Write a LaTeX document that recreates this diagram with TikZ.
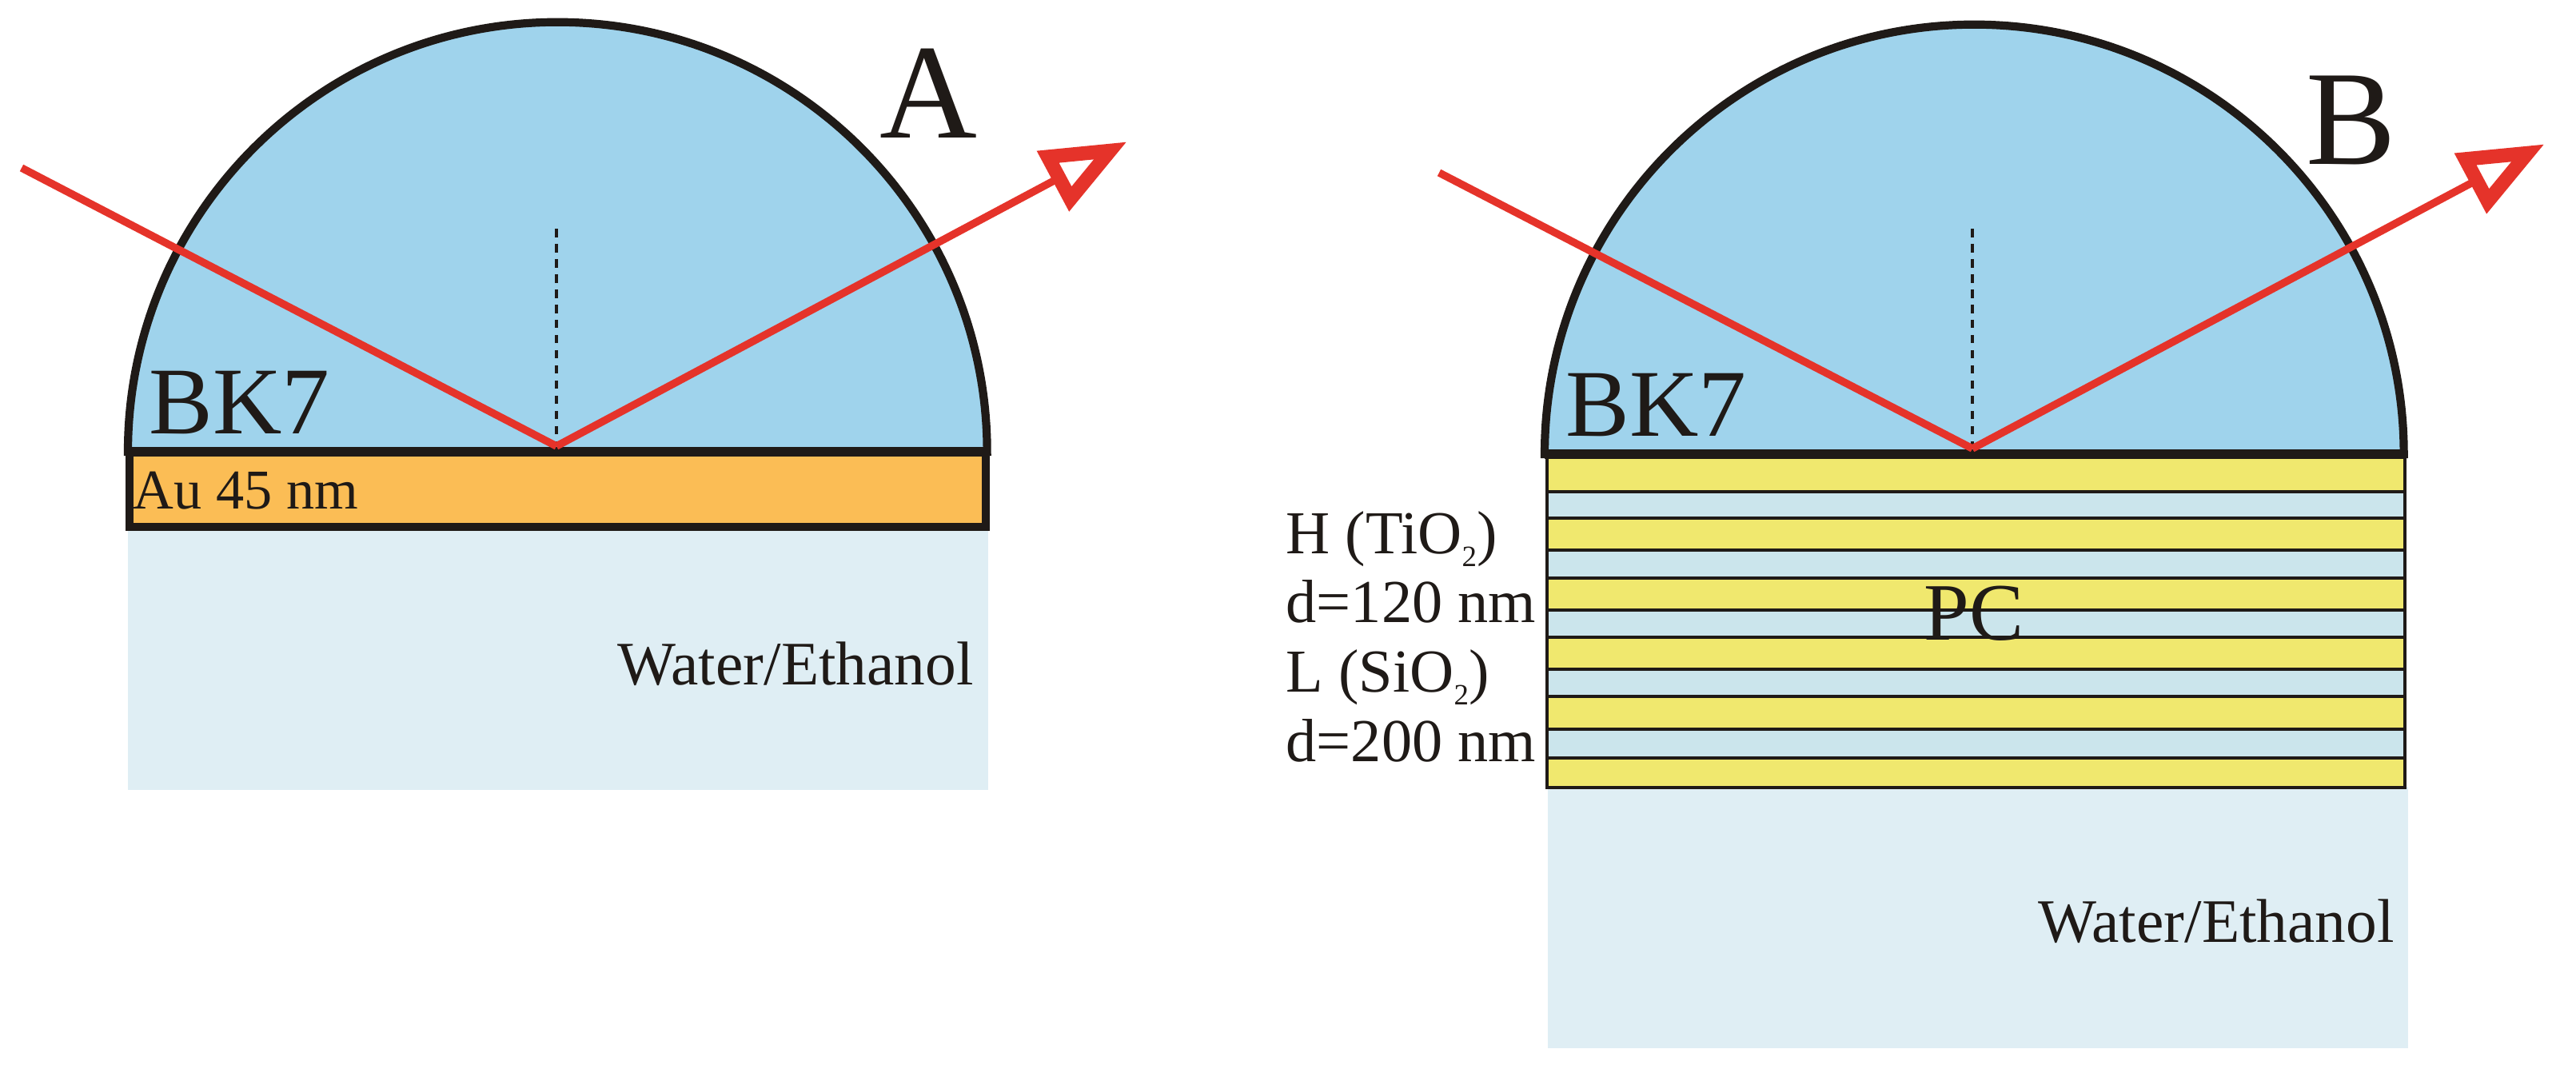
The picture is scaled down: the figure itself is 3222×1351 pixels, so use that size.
\documentclass[tikz,border=0pt]{standalone}
\usepackage{fontspec}
\setmainfont{Liberation Serif}
\usetikzlibrary{arrows.meta}
\definecolor{glass}{HTML}{9FD3EC}
\definecolor{goldfill}{HTML}{FBBD55}
\definecolor{waterfill}{HTML}{DFEEF4}
\definecolor{highfill}{HTML}{F0E86E}
\definecolor{lowfill}{HTML}{CBE5EC}
\definecolor{ink}{HTML}{1F1A17}
\definecolor{ray}{HTML}{E5332A}
\newcommand\lowsub[1]{\raisebox{-0.22em}{\fontsize{10.5}{12}\selectfont #1}}
\newcommand\fs[1]{\fontsize{#1}{#1}\selectfont}
\tikzset{
  lens/.style={fill=glass,draw=ink,line width=2.9pt,line join=miter},
  lensbase/.style={draw=ink,line width=3.5pt},
  water/.style={fill=waterfill,draw=none},
  gold/.style={fill=goldfill,draw=ink,line width=3pt},
  hilayer/.style={fill=highfill,draw=ink,line width=1.3pt},
  lolayer/.style={fill=lowfill,draw=ink,line width=1.3pt},
  normalline/.style={draw=ink,line width=1.2pt,dash pattern=on 3pt off 2.4pt},
  beam/.style={draw=ray,line width=2.7pt},
  beamout/.style={beam,-{Triangle[open,length=30pt,width=23pt,line width=5pt]}},
  lbl/.style={inner sep=0pt,anchor=base west,text=ink},
}
\begin{document}
\begin{tikzpicture}[x=0.01cm,y=-0.01cm]
\useasboundingbox (0,0) rectangle (3222,1351);
% Panel A
\fill[water] (160,660) rectangle (1236,988);
\draw[gold] (162,565) rectangle (1233,659);
\draw[lens] (160,565) arc[start angle=180,end angle=0,radius=5.37cm] -- cycle;
\coordinate (aBaseL) at (160,565);
\coordinate (aBaseR) at (1234,565);
\draw[lensbase] (aBaseL) -- (aBaseR);
\coordinate (aIn) at (27,210);
\coordinate (aHit) at (696,558);
\coordinate (aOut) at (1410,177);
\coordinate (aTop) at (696,286);
\draw[normalline] (aTop) -- (aHit);
\draw[beam] (aIn) -- (aHit);
\draw[beamout] (aHit) -- (aOut);
\node[lbl,font=\fs{34}] (aglass) at (186,542) {BK7};
\node[lbl,font=\fs{20}] (agold) at (166,636) {Au 45 nm};
\node[lbl,font=\fs{22}] (awater) at (772,856) {Water/Ethanol};
\node[lbl,font=\fs{48}] (aname) at (1100,172) {A};
% Panel B
\fill[water] (1936,984) rectangle (3012,1311);
\draw[hilayer] (1935,570) rectangle (3008,615);
\draw[lolayer] (1935,615) rectangle (3008,648);
\draw[hilayer] (1935,648) rectangle (3008,688);
\draw[lolayer] (1935,688) rectangle (3008,723);
\draw[hilayer] (1935,723) rectangle (3008,763);
\draw[lolayer] (1935,763) rectangle (3008,797);
\draw[hilayer] (1935,797) rectangle (3008,837);
\draw[lolayer] (1935,837) rectangle (3008,871);
\draw[hilayer] (1935,871) rectangle (3008,912);
\draw[lolayer] (1935,912) rectangle (3008,948);
\draw[hilayer] (1935,948) rectangle (3008,985);
\draw[lens] (1932,568) arc[start angle=180,end angle=0,radius=5.37cm] -- cycle;
\coordinate (bBaseL) at (1932,568);
\coordinate (bBaseR) at (3006,568);
\draw[lensbase] (bBaseL) -- (bBaseR);
\coordinate (bIn) at (1800,216);
\coordinate (bHit) at (2467,561);
\coordinate (bOut) at (3183,180);
\coordinate (bTop) at (2467,286);
\draw[normalline] (bTop) -- (bHit);
\draw[beam] (bIn) -- (bHit);
\draw[beamout] (bHit) -- (bOut);
\node[lbl,font=\fs{34}] (bglass) at (1958,545) {BK7};
\node[lbl,font=\fs{48}] (bname) at (2884,205) {B};
\node[lbl,font=\fs{29}] (pc) at (2406,800) {PC};
\node[lbl,font=\fs{21.7}] (hname) at (1608,692) {H (TiO\lowsub{2})};
\node[lbl,font=\fs{21.7}] (hd) at (1608,778) {d=120 nm};
\node[lbl,font=\fs{21.7}] (lname) at (1608,865) {L (SiO\lowsub{2})};
\node[lbl,font=\fs{21.7}] (ld) at (1608,952) {d=200 nm};
\node[lbl,font=\fs{22}] (bwater) at (2549,1178) {Water/Ethanol};
\end{tikzpicture}
\end{document}
